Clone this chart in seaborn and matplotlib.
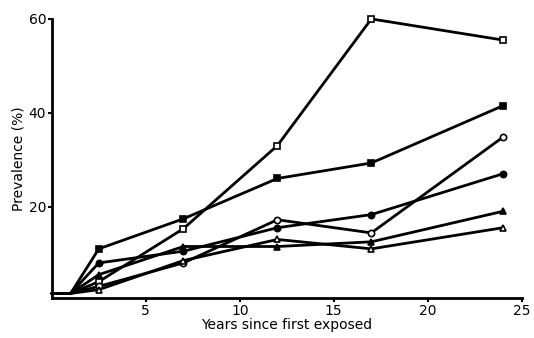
import matplotlib
matplotlib.use('Agg')
import matplotlib.pyplot as plt
import seaborn as sns
import pandas as pd

years = [0, 1, 2.5, 7, 12, 17, 24]
open_square = [1.5, 1.5, 4, 15.3, 33, 60, 55.5]
filled_square = [1.5, 1.5, 11, 17.4, 26, 29.3, 41.5]
open_circle = [1.5, 1.5, 3, 8, 17.2, 14.4, 34.8]
filled_circle = [1.5, 1.5, 8, 10.5, 15.5, 18.3, 27]
filled_triangle = [1.5, 1.5, 5.5, 11.5, 11.5, 12.5, 19]
open_triangle = [1.5, 1.5, 2.3, 8.5, 13, 11, 15.5]

series = [
    (open_square, 's', 'white'),
    (filled_square, 's', 'black'),
    (open_circle, 'o', 'white'),
    (filled_circle, 'o', 'black'),
    (filled_triangle, '^', 'black'),
    (open_triangle, '^', 'white'),
]

sns.set_style('ticks')
plt.rcParams['font.family'] = ['DejaVu Sans']
plt.rcParams['text.color'] = 'black'
plt.rcParams['axes.labelcolor'] = 'black'
plt.rcParams['xtick.color'] = 'black'
plt.rcParams['ytick.color'] = 'black'
plt.rcParams['axes.edgecolor'] = 'black'

fig = plt.figure(figsize=(5.34, 3.38), dpi=100)
ax = fig.add_axes([0.097, 0.118, 0.88, 0.826])

for values, marker, face in series:
    df = pd.DataFrame({'years': years, 'prev': values})
    sns.lineplot(data=df, x='years', y='prev', ax=ax, color='black',
                 linewidth=2, marker=marker, markersize=4.5,
                 markerfacecolor=face, markeredgecolor='black',
                 markeredgewidth=1.2, markevery=slice(2, None),
                 clip_on=False)

ax.set_xlim(0, 25)
ax.set_ylim(0.5, 60)
ax.set_xticks([5, 10, 15, 20, 25])
ax.set_yticks([20, 40, 60])
ax.set_xlabel('Years since first exposed', fontsize=10, labelpad=0)
ax.set_ylabel('Prevalence (%)', fontsize=10, labelpad=2)
ax.tick_params(labelsize=10, width=1.5, length=3, pad=1)
for side in ['top', 'right']:
    ax.spines[side].set_visible(False)
for side in ['left', 'bottom']:
    ax.spines[side].set_linewidth(2)

fig.savefig('out.png', dpi=100)
